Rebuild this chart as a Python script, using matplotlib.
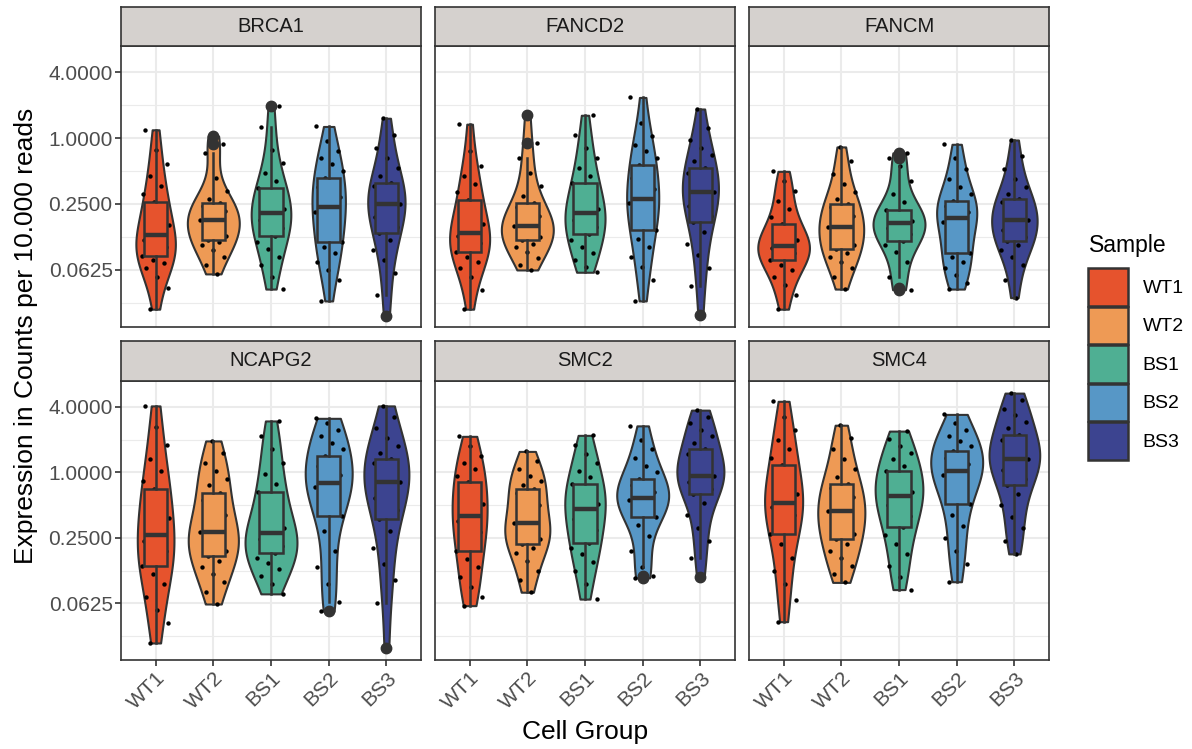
import numpy as np
import matplotlib
matplotlib.use("Agg")
import matplotlib.pyplot as plt
from matplotlib import cbook, mlab
from matplotlib.patches import Patch

plt.rcParams["font.family"] = ["Liberation Sans", "DejaVu Sans"]

# Sample groups and colours
samples = ["WT1", "WT2", "BS1", "BS2", "BS3"]
colors = ["#E6532D", "#EE9A55", "#4FAF93", "#5797C6", "#3C4490"]
genes = ["BRCA1", "FANCD2", "FANCM", "NCAPG2", "SMC2", "SMC4"]

# log2 expression values (counts per 10.000 reads)
brca1 = [
    [-5.19, -4.55, -4.2, -3.95, -3.8, -3.7, -3.59, -3.5, -3.42, -3.3, -3.2, -3.08, -2.95, -2.8, -2.65, -2.5, -2.3, -2.1, -1.93, -1.7, -1.45, -1.15, -0.8, -0.35, 0.25],
    [-4.12, -3.85, -3.6, -3.4, -3.25, -3.15, -3.08, -2.98, -2.88, -2.78, -2.68, -2.58, -2.49, -2.4, -2.3, -2.2, -2.12, -2.05, -1.98, -1.85, -1.6, -1.2, -0.45, -0.19, 0.06],
    [-4.58, -4.2, -3.85, -3.6, -3.35, -3.15, -2.98, -2.85, -2.72, -2.6, -2.48, -2.38, -2.27, -2.15, -2.05, -1.92, -1.8, -1.65, -1.52, -1.3, -1.05, -0.75, -0.35, 0.32, 0.98],
    [-4.94, -4.3, -4.0, -3.75, -3.5, -3.3, -3.15, -2.95, -2.75, -2.55, -2.4, -2.25, -2.1, -1.95, -1.8, -1.65, -1.5, -1.35, -1.21, -1.0, -0.8, -0.6, -0.4, -0.1, 0.35],
    [-5.4, -4.75, -4.1, -3.7, -3.4, -3.1, -2.88, -2.7, -2.55, -2.4, -2.25, -2.12, -2.0, -1.9, -1.8, -1.7, -1.58, -1.47, -1.35, -1.15, -0.9, -0.6, -0.3, 0.1, 0.6],
]
fancd2 = [
    [-5.19, -4.6, -4.2, -3.95, -3.75, -3.6, -3.46, -3.38, -3.28, -3.18, -3.08, -2.98, -2.88, -2.75, -2.6, -2.45, -2.25, -2.05, -1.88, -1.65, -1.4, -1.15, -0.85, -0.4, 0.42],
    [-4.0, -3.85, -3.65, -3.45, -3.3, -3.2, -3.1, -3.0, -2.92, -2.85, -2.78, -2.72, -2.67, -2.58, -2.48, -2.36, -2.22, -2.1, -1.98, -1.75, -1.45, -1.05, -0.6, -0.14, 0.69],
    [-4.07, -3.9, -3.7, -3.5, -3.3, -3.1, -2.92, -2.8, -2.7, -2.6, -2.5, -2.38, -2.27, -2.15, -2.0, -1.85, -1.7, -1.52, -1.37, -1.15, -0.9, -0.6, -0.3, 0.1, 0.69],
    [-4.94, -4.3, -3.9, -3.6, -3.3, -3.05, -2.8, -2.6, -2.4, -2.25, -2.1, -1.98, -1.86, -1.72, -1.55, -1.38, -1.2, -1.0, -0.81, -0.6, -0.4, -0.2, 0.05, 0.45, 1.23],
    [-5.37, -4.5, -3.95, -3.55, -3.2, -2.85, -2.54, -2.35, -2.2, -2.05, -1.9, -1.78, -1.65, -1.55, -1.45, -1.33, -1.2, -1.05, -0.91, -0.7, -0.5, -0.3, -0.05, 0.3, 0.88],
]
fancm = [
    [-5.19, -4.75, -4.45, -4.2, -4.0, -3.85, -3.71, -3.62, -3.55, -3.48, -3.4, -3.33, -3.26, -3.18, -3.1, -3.0, -2.9, -2.76, -2.61, -2.4, -2.15, -1.9, -1.6, -1.3, -1.01],
    [-4.58, -4.2, -3.95, -3.75, -3.6, -3.48, -3.36, -3.25, -3.13, -3.0, -2.9, -2.8, -2.69, -2.58, -2.46, -2.35, -2.22, -2.1, -2.0, -1.85, -1.65, -1.4, -1.1, -0.7, -0.27],
    [-4.6, -4.55, -4.2, -3.75, -3.45, -3.25, -3.12, -3.0, -2.9, -2.82, -2.74, -2.66, -2.59, -2.52, -2.46, -2.4, -2.33, -2.26, -2.18, -1.95, -1.7, -1.3, -0.86, -0.6, -0.45],
    [-4.58, -4.4, -4.15, -3.95, -3.75, -3.6, -3.48, -3.3, -3.1, -2.9, -2.7, -2.55, -2.41, -2.32, -2.23, -2.14, -2.06, -1.98, -1.9, -1.7, -1.5, -1.25, -0.95, -0.6, -0.19],
    [-4.84, -4.3, -3.85, -3.6, -3.4, -3.25, -3.12, -3.0, -2.9, -2.8, -2.7, -2.6, -2.49, -2.38, -2.27, -2.15, -2.05, -1.95, -1.86, -1.7, -1.5, -1.25, -0.95, -0.55, -0.06],
]
ncapg2 = [
    [-5.21, -4.6, -4.2, -3.8, -3.4, -3.1, -2.87, -2.7, -2.55, -2.4, -2.25, -2.1, -1.9, -1.65, -1.4, -1.15, -0.95, -0.75, -0.52, -0.25, 0.05, 0.4, 0.85, 1.4, 2.03],
    [-4.02, -3.65, -3.35, -3.1, -2.9, -2.7, -2.54, -2.4, -2.28, -2.16, -2.05, -1.95, -1.83, -1.68, -1.5, -1.3, -1.1, -0.85, -0.62, -0.4, -0.2, 0.05, 0.3, 0.6, 0.96],
    [-3.71, -3.4, -3.15, -2.95, -2.78, -2.6, -2.46, -2.35, -2.25, -2.15, -2.05, -1.95, -1.85, -1.7, -1.5, -1.3, -1.05, -0.8, -0.6, -0.35, -0.05, 0.3, 0.7, 1.1, 1.57],
    [-4.24, -3.95, -3.4, -2.9, -2.4, -1.8, -1.34, -1.05, -0.85, -0.7, -0.58, -0.45, -0.32, -0.2, -0.08, 0.05, 0.2, 0.35, 0.5, 0.7, 0.9, 1.1, 1.3, 1.5, 1.65],
    [-5.37, -4.0, -3.3, -2.8, -2.3, -1.8, -1.42, -1.15, -0.95, -0.78, -0.62, -0.45, -0.3, -0.18, -0.05, 0.08, 0.2, 0.3, 0.42, 0.6, 0.8, 1.05, 1.35, 1.7, 2.03],
]
smc2 = [
    [-4.07, -3.8, -3.5, -3.2, -2.9, -2.65, -2.39, -2.2, -2.0, -1.82, -1.65, -1.48, -1.32, -1.15, -0.98, -0.82, -0.65, -0.48, -0.3, -0.1, 0.1, 0.3, 0.5, 0.8, 1.1],
    [-3.66, -3.3, -3.0, -2.7, -2.45, -2.3, -2.18, -2.05, -1.95, -1.85, -1.75, -1.65, -1.54, -1.4, -1.2, -1.0, -0.8, -0.62, -0.5, -0.38, -0.25, -0.1, 0.1, 0.35, 0.64],
    [-3.87, -3.4, -3.0, -2.75, -2.5, -2.3, -2.15, -1.95, -1.75, -1.58, -1.42, -1.28, -1.13, -0.98, -0.85, -0.72, -0.6, -0.48, -0.35, -0.15, 0.05, 0.3, 0.55, 0.85, 1.13],
    [-3.22, -3.18, -2.9, -2.4, -1.95, -1.6, -1.37, -1.22, -1.1, -1.0, -0.92, -0.85, -0.79, -0.7, -0.6, -0.5, -0.4, -0.3, -0.19, 0.0, 0.2, 0.45, 0.7, 1.0, 1.42],
    [-3.2, -2.6, -2.1, -1.7, -1.3, -0.95, -0.65, -0.5, -0.4, -0.3, -0.22, -0.16, -0.1, 0.02, 0.15, 0.28, 0.4, 0.55, 0.7, 0.9, 1.1, 1.3, 1.5, 1.7, 1.9],
]
smc4 = [
    [-4.56, -3.9, -3.4, -3.0, -2.6, -2.2, -1.88, -1.65, -1.45, -1.3, -1.15, -1.05, -0.93, -0.8, -0.65, -0.5, -0.3, -0.05, 0.21, 0.45, 0.7, 1.0, 1.3, 1.7, 2.17],
    [-3.36, -3.1, -2.85, -2.6, -2.4, -2.2, -2.03, -1.88, -1.72, -1.58, -1.45, -1.32, -1.19, -1.05, -0.9, -0.75, -0.6, -0.48, -0.35, -0.15, 0.1, 0.4, 0.7, 1.05, 1.44],
    [-3.58, -3.2, -2.85, -2.5, -2.2, -1.9, -1.67, -1.5, -1.32, -1.15, -1.0, -0.85, -0.72, -0.6, -0.48, -0.36, -0.24, -0.1, 0.03, 0.2, 0.4, 0.6, 0.8, 1.02, 1.26],
    [-3.34, -2.8, -2.4, -2.0, -1.65, -1.3, -0.96, -0.7, -0.5, -0.35, -0.2, -0.07, 0.05, 0.15, 0.25, 0.35, 0.45, 0.55, 0.66, 0.8, 0.95, 1.1, 1.3, 1.5, 1.77],
    [-2.49, -2.1, -1.7, -1.35, -1.0, -0.65, -0.38, -0.2, -0.05, 0.08, 0.2, 0.32, 0.42, 0.52, 0.62, 0.72, 0.84, 0.98, 1.15, 1.35, 1.55, 1.75, 1.95, 2.2, 2.42],
]
gene_data = [brca1, fancd2, fancm, ncapg2, smc2, smc4]

y_ticks = [2, 0, -2, -4]
y_ticklabels = ["4.0000", "1.0000", "0.2500", "0.0625"]
y_minor = [1, -1, -3, -5]

EDGE = "#333333"
W, H = 1192, 749


def kde_method(X, coords):
    kde = mlab.GaussianKDE(X, bw_method=0.5)
    return kde.evaluate(coords)


def px_axes(fig, x0, y0, x1, y1):
    return fig.add_axes([x0 / W, 1 - y1 / H, (x1 - x0) / W, (y1 - y0) / H])


fig = plt.figure(figsize=(W / 100, H / 100), dpi=100)

col_x = [(121, 421), (435, 735), (749, 1049)]
row_y = [((7, 46), (46, 327)), ((341, 381), (381, 660))]

positions = np.arange(1, 6)

for k, gene in enumerate(genes):
    r, c = divmod(k, 3)
    x0, x1 = col_x[c]
    (s0, s1), (p0, p1) = row_y[r]

    ax = px_axes(fig, x0, p0, x1, p1)
    data = [np.array(v) for v in gene_data[k]]

    # violins, area-scaled within the panel like ggplot
    stats = cbook.violin_stats(data, kde_method, points=200)
    peak = max(s["vals"].max() for s in stats)
    widths = [0.9 * s["vals"].max() / peak for s in stats]
    parts = ax.violin(stats, positions=positions, widths=widths,
                      showmeans=False, showextrema=False, showmedians=False)
    for body, col in zip(parts["bodies"], colors):
        body.set_facecolor(col)
        body.set_edgecolor(EDGE)
        body.set_linewidth(1.5)
        body.set_alpha(1)
        body.set_zorder(2)

    # jittered points (fixed, evenly spread offsets)
    for pos, vals in zip(positions, data):
        n = len(vals)
        offs = ((np.arange(n) * 0.618 + 0.31 * pos) % 1 - 0.5) * 0.5
        ax.scatter(pos + offs, vals, s=10, color="black", lw=0, zorder=3)

    bp = ax.boxplot(data, positions=positions, widths=0.4, patch_artist=True,
                    whis=1.5, showcaps=False, manage_ticks=False, zorder=4,
                    boxprops=dict(edgecolor=EDGE, linewidth=1.8),
                    whiskerprops=dict(color=EDGE, linewidth=1.8),
                    medianprops=dict(color=EDGE, linewidth=3.2),
                    flierprops=dict(marker="o", markerfacecolor=EDGE,
                                    markeredgecolor=EDGE, markersize=7.5))
    for patch, col in zip(bp["boxes"], colors):
        patch.set_facecolor(col)

    ax.set_xlim(0.4, 5.6)
    ax.set_ylim(-5.73, 2.79)
    ax.set_xticks(positions)
    ax.set_yticks(y_ticks)
    ax.set_yticks(y_minor, minor=True)
    ax.grid(which="major", color="#EBEBEB", lw=1.5, zorder=0)
    ax.grid(which="minor", axis="y", color="#EBEBEB", lw=0.8, zorder=0)
    ax.set_axisbelow(True)
    ax.tick_params(which="minor", length=0)
    ax.tick_params(which="major", color=EDGE, length=4, width=1.2,
                   labelcolor="#4D4D4D", labelsize=15, pad=2)
    for sp in ax.spines.values():
        sp.set_color(EDGE)
        sp.set_linewidth(1.2)

    if c == 0:
        ax.set_yticklabels(y_ticklabels)
    else:
        ax.tick_params(axis="y", length=0, labelleft=False)
    if r == 1:
        ax.set_xticklabels(samples, rotation=45, ha="right", va="top",
                           rotation_mode="anchor")
    else:
        ax.tick_params(axis="x", length=0, labelbottom=False)

    # facet strip
    sax = px_axes(fig, x0, s0, x1, s1)
    sax.set_facecolor("#D5D1CE")
    sax.set_xticks([])
    sax.set_yticks([])
    for sp in sax.spines.values():
        sp.set_color(EDGE)
        sp.set_linewidth(1.2)
    sax.text(0.5, 0.5, gene, ha="center", va="center", fontsize=14.5,
             color="#1A1A1A", transform=sax.transAxes)

fig.text(26 / W, 1 - 336 / H, "Expression in Counts per 10.000 reads",
         rotation=90, ha="center", va="center", fontsize=19)
fig.text(585 / W, 1 - 732 / H, "Cell Group", ha="center", va="center",
         fontsize=19)

# legend: title placed on its own, keys below it
fig.text(1089 / W, 1 - 246 / H, "Sample", ha="left", va="center",
         fontsize=16.5)
handles = [Patch(facecolor=col, edgecolor=EDGE, linewidth=1.8) for col in colors]
fig.legend(handles, samples, loc="upper left",
           bbox_to_anchor=(1088 / W, 1 - 268 / H), frameon=False,
           fontsize=14, handlelength=2.05, handleheight=2.6,
           labelspacing=0.05, handletextpad=0.75, borderaxespad=0,
           borderpad=0)

fig.savefig("out.png", dpi=100)
